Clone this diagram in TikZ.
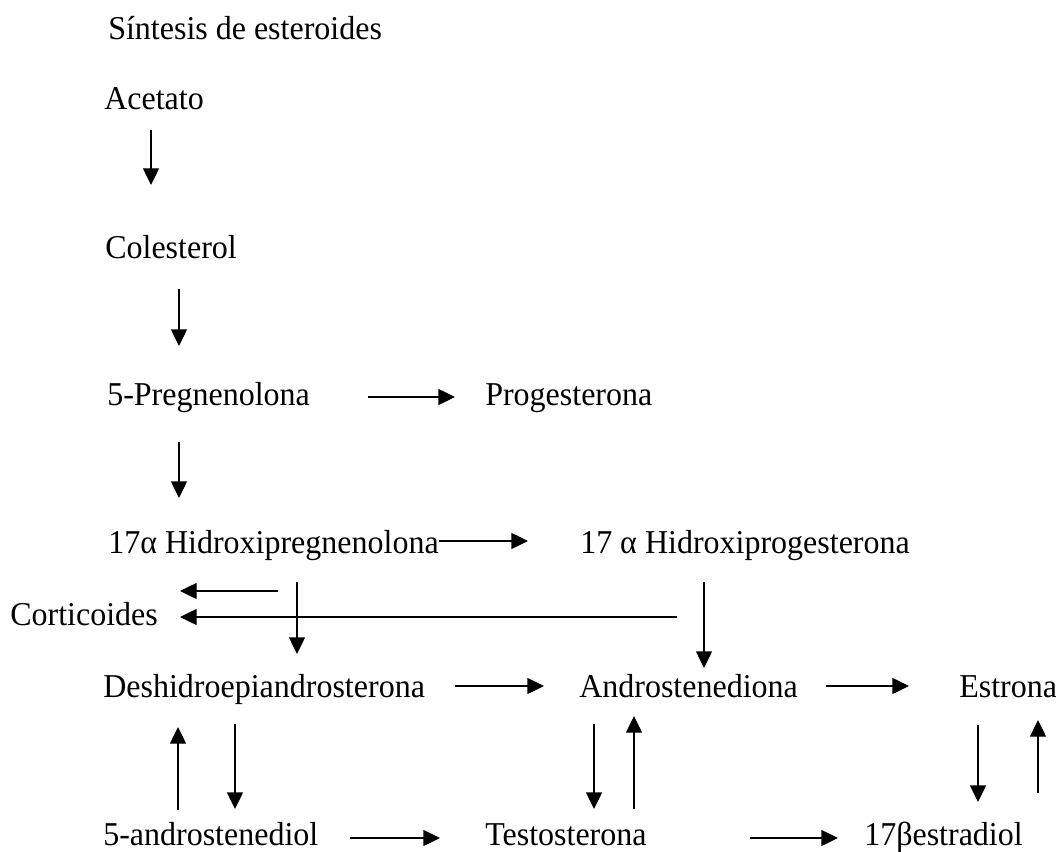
\documentclass[tikz,border=0pt]{standalone}
\usepackage{fontspec}
\setmainfont{Liberation Serif}[FakeStretch=0.96]
\usetikzlibrary{arrows.meta}
\tikzset{
	compuesto/.style={anchor=base west, inner sep=0pt, font=\fontsize{25}{30}\selectfont},
	flecha/.style={line width=1pt, -{Triangle[length=12.5pt,width=12pt]}}
}
\def\paso(#1)(#2)#3{\coordinate (#3i) at (#1); \coordinate (#3f) at (#2); \draw[flecha] (#3i) -- (#3f);}

\begin{document}
\begin{tikzpicture}[x=0.75pt,y=-0.75pt]
		%%%%% START %%%%%
		\useasboundingbox (0,0) rectangle (1056,852);
		
		\node[compuesto] (titulo) at (108,40) {Síntesis de esteroides};
		
		\node[compuesto] (acetato) at (104,110) {Acetato};
		\node[compuesto] (colesterol) at (105,258) {Colesterol};
		\node[compuesto] (pregnenolona) at (107,405) {5-Pregnenolona};
		\node[compuesto] (progesterona) at (485,405) {Progesterona};
		\node[compuesto] (hpregnenolona) at (108,553) {17α Hidroxipregnenolona};
		\node[compuesto] (hprogesterona) at (580,553) {17 α Hidroxiprogesterona};
		\node[compuesto] (corticoides) at (10,625) {Corticoides};
		\node[compuesto] (dhea) at (103,697) {Deshidroepiandrosterona};
		\node[compuesto] (androstenediona) at (579,697) {Androstenediona};
		\node[compuesto] (estrona) at (959,697) {Estrona};
		\node[compuesto] (androstenediol) at (103,845) {5-androstenediol};
		\node[compuesto] (testosterona) at (485,845) {Testosterona};
		\node[compuesto] (estradiol) at (864,845) {17βestradiol};
		
		% columna de la izquierda
		\paso(151,130)(151,185){ace};
		\paso(179,289)(179,346){col};
		\paso(368,397)(455,397){pre};
		\paso(179,442)(179,498){prh};
		\paso(439,541)(528,541){hid};
		
		% corticoides
		\paso(278,591)(180,591){cta};
		\paso(677,617)(180,617){ctb};
		\paso(297,582)(297,654){hdh};
		\paso(704,582)(704,668){had};
		
		% androgenos y estrogenos
		\paso(455,686)(544,686){dan};
		\paso(826,686)(909,686){aes};
		\paso(178,810)(178,727){dsu};
		\paso(235,724)(235,809){dsb};
		\paso(350,838)(440,838){ate};
		\paso(594,724)(594,809){anb};
		\paso(634,809)(634,716){ans};
		\paso(750,838)(838,838){tes};
		\paso(978,725)(978,802){esb};
		\paso(1038,793)(1038,720){ess};
		
		%%%%% END %%%%%
\end{tikzpicture}
\end{document}
